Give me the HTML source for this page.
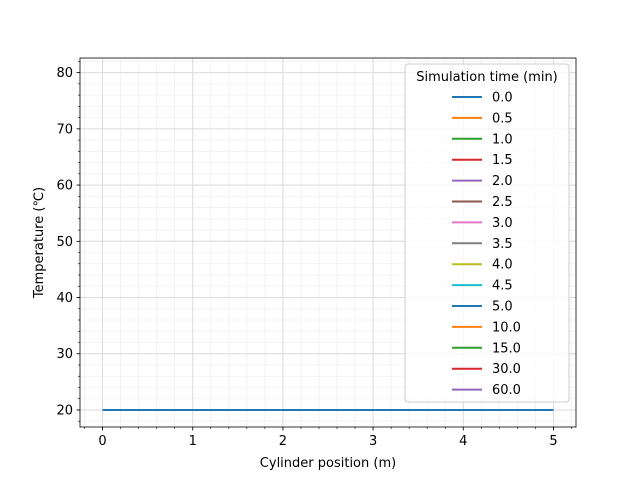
<!DOCTYPE html>
<html><head><meta charset="utf-8"><style>
body{margin:0;background:#fff;}
svg{font-family:"DejaVu Sans","Liberation Sans",sans-serif;}
</style></head><body>
<svg id="c" width="640" height="480" viewBox="0 0 640 480"></svg>
<script>
const positions = [0, 1, 2, 3, 4, 5];
const temps = [20, 20, 20, 20, 20, 20];
const xTicks = [0, 1, 2, 3, 4, 5];
const yTicks = [20, 30, 40, 50, 60, 70, 80];
const legendLabels = ["0.0","0.5","1.0","1.5","2.0","2.5","3.0","3.5","4.0","4.5","5.0","10.0","15.0","30.0","60.0"];
const colors = ["#1f77b4","#ff7f0e","#2ca02c","#d62728","#9467bd","#8c564b","#e377c2","#7f7f7f","#bcbd22","#17becf"];
const L=80,R=576,T=58,B=427;
const xmin=-0.25,xmax=5.25,ymin=16.97,ymax=82.6;
const sx=v=>L+(v-xmin)/(xmax-xmin)*(R-L);
const sy=v=>B-(v-ymin)/(ymax-ymin)*(B-T);
const svg=document.getElementById('c');
const NS="http://www.w3.org/2000/svg";
function mk(t,a,p){const e=document.createElementNS(NS,t);for(const k in a)e.setAttribute(k,a[k]);(p||svg).appendChild(e);return e;}
for(let v=-0.2;v<=5.21;v+=0.2){const x=sx(v);if(x<L||x>R)continue;
 const g=mk('line',{x1:x,x2:x,y1:T,y2:B,stroke:'#f0f0f0','stroke-width':0.8});
 
 const t=mk('line',{x1:x,x2:x,y1:B,y2:B+2,stroke:'#000','stroke-width':0.6});
 }
for(let v=18;v<=82;v+=2){const y=sy(v);
 const g=mk('line',{x1:L,x2:R,y1:y,y2:y,stroke:'#f0f0f0','stroke-width':0.8});
 
 const t=mk('line',{x1:L-2,x2:L,y1:y,y2:y,stroke:'#000','stroke-width':0.6});
 }
xTicks.forEach(v=>{const x=sx(v);
 const g=mk('line',{x1:x,x2:x,y1:T,y2:B,stroke:'#dcdcdc','stroke-width':1});
 
 const t=mk('line',{x1:x,x2:x,y1:B,y2:B+3.5,stroke:'#000','stroke-width':0.8});
 
 const l=mk('text',{x:x,y:B+18,'text-anchor':'middle','font-size':13});l.textContent=v;
 });
yTicks.forEach(v=>{const y=sy(v);
 const g=mk('line',{x1:L,x2:R,y1:y,y2:y,stroke:'#dcdcdc','stroke-width':1});
 
 const t=mk('line',{x1:L-3.5,x2:L,y1:y,y2:y,stroke:'#000','stroke-width':0.8});
 
 const l=mk('text',{x:L-7,y:y+4.5,'text-anchor':'end','font-size':13});l.textContent=v;
 });
const pl=mk('polyline',{points:positions.map((p,i)=>sx(p)+','+sy(temps[i])).join(' '),fill:'none',stroke:colors[0],'stroke-width':2});

const fr=mk('rect',{x:L,y:T,width:R-L,height:B-T,fill:'none',stroke:'#000','stroke-width':0.8});

const xl=mk('text',{x:(L+R)/2,y:467,'text-anchor':'middle','font-size':13});xl.textContent='Cylinder position (m)';

const yl=mk('text',{x:0,y:0,'text-anchor':'middle','font-size':13,transform:`translate(43,${(T+B)/2}) rotate(-90)`});yl.textContent='Temperature (℃)';

const lg=mk('g',{});
mk('rect',{x:405,y:64,width:164,height:338,rx:3,fill:'#fff','fill-opacity':0.8,stroke:'#ccc','stroke-width':1},lg);
const lt=mk('text',{x:487,y:81,'text-anchor':'middle','font-size':13},lg);lt.textContent='Simulation time (min)';

legendLabels.forEach((s,i)=>{const y=97+i*20.9;
 const e=mk('g',{},lg);
 mk('line',{x1:452,x2:482,y1:y,y2:y,stroke:colors[i%10],'stroke-width':2},e);
 const t=mk('text',{x:492,y:y+4.5,'font-size':13},e);t.textContent=s;});
</script>
</body></html>
